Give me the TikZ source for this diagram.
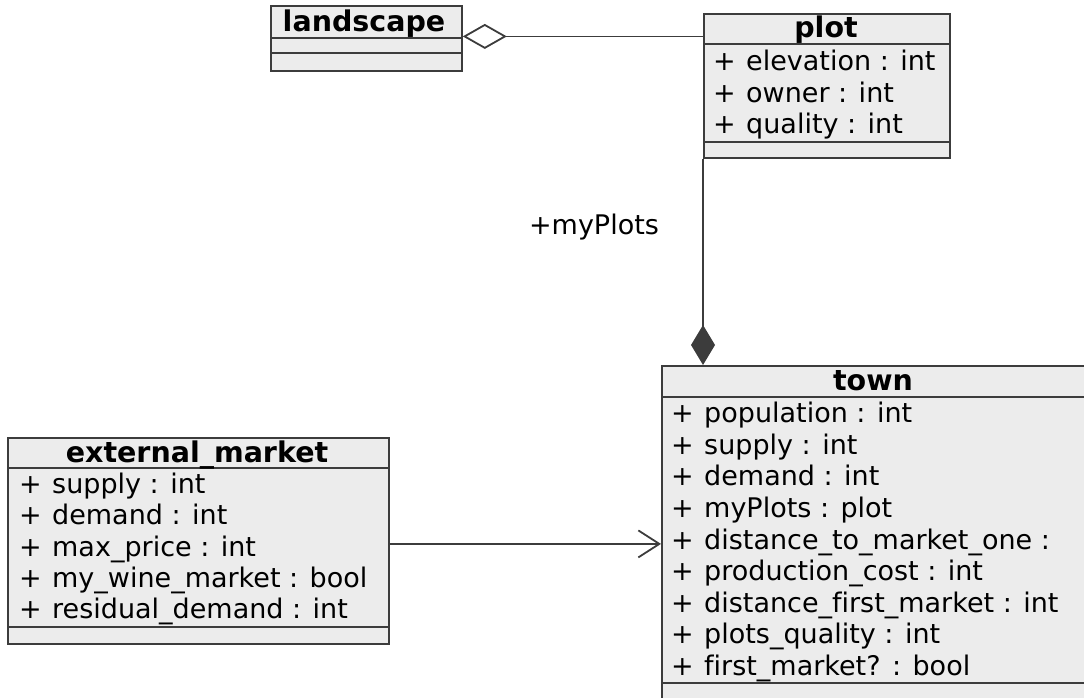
\documentclass[tikz,border=0pt]{standalone}
\usepackage{fontspec}
\setmainfont{DejaVu Sans}[Ligatures={NoCommon}]
\usetikzlibrary{arrows.meta}
\definecolor{umlfill}{HTML}{ECECEC}
\definecolor{umlline}{HTML}{3C3C3C}
\newcommand{\umlattr}[4]{%
  \node[attr] (#1v) at (#2+10,#3) {+};
  \node[attr] (#1n) at (#2+43,#3) {#4};}
\begin{document}
\begin{tikzpicture}[x=1pt,y=-1pt,
  font=\fontsize{27}{31.5}\selectfont,
  classbox/.style={draw=umlline, fill=umlfill, line width=1.8pt, rectangle, inner sep=0pt, anchor=north west},
  sepline/.style={draw=umlline, line width=1.8pt},
  attr/.style={anchor=mid west, inner sep=0pt, text=black},
  ctitle/.style={font=\fontsize{28.5}{31.5}\selectfont\bfseries, anchor=mid, inner sep=0pt, text=black},
  conn/.style={draw=umlline, line width=1.8pt}]
\useasboundingbox (0,0) rectangle (1084,697);
\clip (0,0) rectangle (1084,697);

% landscape
\node[classbox, minimum width=191pt, minimum height=65pt] (landscape) at (270,5) {};
\draw[sepline] (270,38) -- (461,38);
\draw[sepline] (270,53) -- (461,53);
\node[ctitle] (landscapeT) at (364,29) {landscape};

% plot
\node[classbox, minimum width=246pt, minimum height=144pt] (plot) at (703,13) {};
\draw[sepline] (703,44) -- (949,44);
\draw[sepline] (703,142) -- (949,142);
\node[ctitle] (plotT) at (826,35) {plot};
\umlattr{p1}{703}{68}{elevation : int}
\umlattr{p2}{703}{99.5}{owner : int}
\umlattr{p3}{703}{131}{quality : int}

% town
\node[classbox, minimum width=440pt, minimum height=350pt] (town) at (661,365) {};
\draw[sepline] (661,397) -- (1101,397);
\draw[sepline] (661,683) -- (1101,683);
\node[ctitle] (townT) at (873,388) {town};
\umlattr{t1}{661}{420}{population : int}
\umlattr{t2}{661}{451.6}{supply : int}
\umlattr{t3}{661}{483.2}{demand : int}
\umlattr{t4}{661}{514.8}{myPlots : plot}
\umlattr{t5}{661}{546.4}{distance\_to\_market\_one :}
\umlattr{t6}{661}{578}{production\_cost : int}
\umlattr{t7}{661}{609.6}{distance\_first\_market : int}
\umlattr{t8}{661}{641.2}{plots\_quality : int}
\umlattr{t9}{661}{672.8}{first\_market? : bool}

% external_market
\node[classbox, minimum width=381pt, minimum height=206pt] (ext) at (7,437) {};
\draw[sepline] (7,468) -- (388,468);
\draw[sepline] (7,627) -- (388,627);
\node[ctitle] (extT) at (197,460) {external\_market};
\umlattr{e1}{9}{491}{supply : int}
\umlattr{e2}{9}{522}{demand : int}
\umlattr{e3}{9}{553.5}{max\_price : int}
\umlattr{e4}{9}{585}{my\_wine\_market : bool}
\umlattr{e5}{9}{616}{residual\_demand : int}

% connectors
\draw[conn, {Diamond[open, length=44pt, width=25pt]}-] ([yshift=2pt]landscape.east) -- ([yshift=2pt]landscape.east -| plot.west);
\draw[conn, -{Diamond[length=40pt, width=24pt, fill=umlline]}] (plot.south west) -- (plot.south west |- town.north);
\node[inner sep=0pt, text=black, anchor=mid] (lbl) at (594,232) {+myPlots};
\draw[conn, -{Straight Barb[length=21pt, width=27pt]}] ([yshift=-3pt]ext.east) -- ([yshift=-3pt]ext.east -| town.west);
\end{tikzpicture}
\end{document}
